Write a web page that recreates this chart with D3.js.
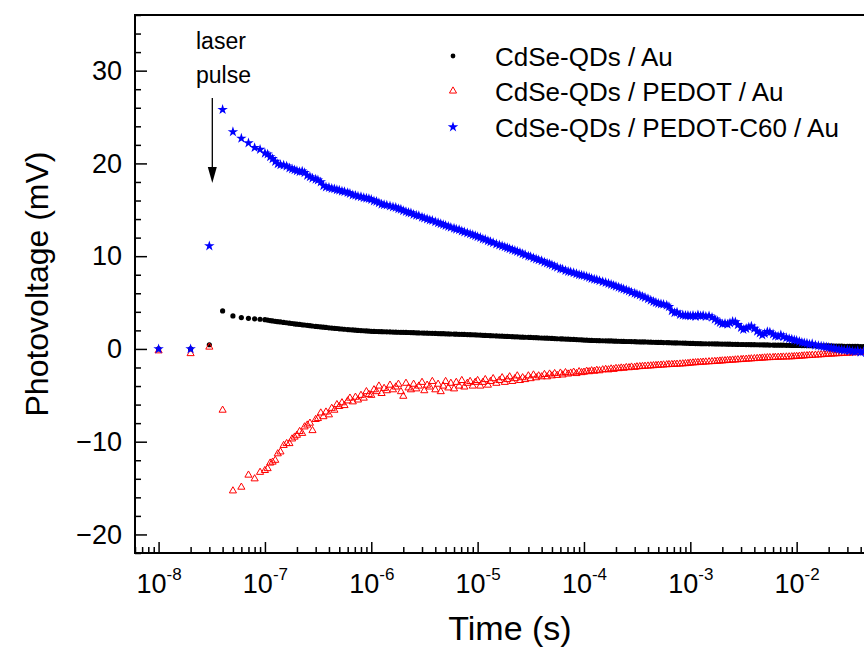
<!DOCTYPE html>
<html>
<head>
<meta charset="utf-8">
<script src="https://cdn.jsdelivr.net/npm/d3@7"></script>
<style>
  body { margin: 0; background: #fff; }
  svg { font-family: "Liberation Sans", Arial, sans-serif; }
</style>
</head>
<body>
<div id="chart"></div>
<script>
// sampling: 10 ns steps before 100 ns, then 40 mantissas per decade
const earlyTimes = [1e-8, 2e-8, 3e-8, 4e-8, 5e-8, 6e-8, 7e-8, 8e-8, 9e-8];
const mantissas = [1.00, 1.06, 1.12, 1.18, 1.25, 1.32, 1.40, 1.50, 1.60, 1.70,
                   1.80, 1.90, 2.00, 2.12, 2.24, 2.36, 2.50, 2.65, 2.80, 3.00,
                   3.15, 3.35, 3.55, 3.75, 4.00, 4.25, 4.50, 4.75, 5.00, 5.30,
                   5.60, 6.00, 6.30, 6.70, 7.10, 7.50, 8.00, 8.50, 9.00, 9.50];
const decades = [-7, -6, -5, -4, -3, -2];

const seriesNames = ["CdSe-QDs / Au", "CdSe-QDs / PEDOT / Au", "CdSe-QDs / PEDOT-C60 / Au"];

// CdSe-QDs / Au (mV)
const auValues = [
  0, 0, 0.45, 4.1, 3.56, 3.38, 3.3, 3.25, 3.2,
  3.15, 3.11, 3.06, 3.02, 2.98, 2.94, 2.91, 2.86, 2.82, 2.78, 2.74, 2.70, 2.67, 2.64, 2.60, 2.58, 2.54, 2.51, 2.47, 2.43,
  2.41, 2.37, 2.35, 2.32, 2.28, 2.25, 2.22, 2.20, 2.17, 2.15, 2.12, 2.09, 2.07, 2.05, 2.02, 2.00, 1.98, 1.96, 1.94, 1.92,
  1.90, 1.89, 1.88, 1.87, 1.86, 1.85, 1.84, 1.83, 1.82, 1.81, 1.80, 1.79, 1.79, 1.78, 1.77, 1.76, 1.75, 1.74, 1.73, 1.72,
  1.71, 1.70, 1.69, 1.68, 1.67, 1.66, 1.65, 1.64, 1.63, 1.62, 1.61, 1.60, 1.59, 1.58, 1.57, 1.56, 1.55, 1.54, 1.53, 1.52,
  1.50, 1.49, 1.47, 1.46, 1.45, 1.43, 1.42, 1.40, 1.39, 1.37, 1.36, 1.35, 1.34, 1.32, 1.31, 1.30, 1.28, 1.27, 1.26, 1.25,
  1.24, 1.22, 1.21, 1.20, 1.18, 1.17, 1.16, 1.15, 1.13, 1.12, 1.10, 1.09, 1.08, 1.06, 1.05, 1.04, 1.02, 1.01, 0.99, 0.98,
  0.95, 0.94, 0.93, 0.92, 0.91, 0.90, 0.89, 0.88, 0.87, 0.86, 0.86, 0.85, 0.84, 0.83, 0.82, 0.81, 0.80, 0.80, 0.79, 0.78,
  0.77, 0.76, 0.75, 0.75, 0.74, 0.73, 0.72, 0.71, 0.70, 0.70, 0.69, 0.68, 0.67, 0.66, 0.65, 0.65, 0.64, 0.63, 0.62, 0.61,
  0.59, 0.59, 0.58, 0.58, 0.57, 0.56, 0.56, 0.55, 0.55, 0.54, 0.54, 0.53, 0.52, 0.52, 0.51, 0.51, 0.50, 0.50, 0.49, 0.48,
  0.48, 0.47, 0.47, 0.46, 0.46, 0.45, 0.44, 0.44, 0.43, 0.43, 0.42, 0.42, 0.41, 0.41, 0.40, 0.40, 0.39, 0.39, 0.38, 0.38,
  0.37, 0.37, 0.36, 0.36, 0.36, 0.35, 0.35, 0.34, 0.34, 0.33, 0.33, 0.33, 0.32, 0.32, 0.31, 0.31, 0.30, 0.30, 0.29, 0.29,
  0.28, 0.28, 0.27, 0.27, 0.26, 0.26, 0.25, 0.25, 0.24, 0.24, 0.23, 0.23, 0.22, 0.22, 0.21, 0.21, 0.20, 0.20, 0.19, 0.19
];

// CdSe-QDs / PEDOT / Au (mV)
const pedotValues = [
  -0.2, -0.5, 0.2, -6.6, -15.3, -14.9, -13.6, -14.0, -13.3,
  -13.1, -12.9, -12.3, -12.2, -12.0, -11.3, -11.1, -10.4, -10.2, -10.2, -9.7, -9.5, -9.3, -8.9, -9.1, -8.4, -8.2, -8.0, -8.8, -7.6,
  -7.5, -6.9, -7.3, -6.8, -7.1, -6.4, -6.6, -6.0, -6.2, -5.8, -6.1, -5.6, -5.3, -5.7, -5.2, -5.5, -5.0, -5.3, -4.6, -4.9,
  -5.0, -4.4, -4.6, -4.0, -4.8, -4.25, -4.5, -3.9, -4.4, -4.1, -3.8, -4.6, -5.1, -3.7, -4.2, -4.4, -3.8, -4.3, -4.0, -3.6,
  -4.5, -3.9, -4.1, -3.5, -4.4, -3.8, -4.6, -4.0, -3.5, -4.2, -3.7, -4.3, -3.6, -4.0, -3.4, -4.1, -3.7, -3.5, -4.0, -3.6,
  -3.4, -4.0, -3.6, -3.3, -3.9, -3.5, -3.2, -3.7, -3.4, -3.1, -3.6, -3.3, -3.0, -3.5, -3.2, -2.9, -3.4, -3.1, -3.3, -2.9,
  -3.2, -2.8, -3.1, -2.9, -3.0, -2.75, -3.0, -2.7, -2.9, -2.65, -2.85, -2.6, -2.8, -2.55, -2.7, -2.6, -2.5, -2.65, -2.45, -2.55,
  -2.5, -2.4, -2.45, -2.35, -2.4, -2.3, -2.35, -2.25, -2.2, -2.25, -2.15, -2.2, -2.1, -2.12, -2.05, -2.08, -2.0, -2.02, -1.95, -1.98,
  -1.92, -1.9, -1.88, -1.86, -1.84, -1.82, -1.8, -1.78, -1.76, -1.74, -1.72, -1.7, -1.68, -1.67, -1.65, -1.64, -1.62, -1.6, -1.58, -1.56,
  -1.52, -1.5, -1.48, -1.46, -1.44, -1.42, -1.4, -1.38, -1.36, -1.34, -1.32, -1.3, -1.28, -1.26, -1.24, -1.22, -1.2, -1.18, -1.16, -1.14,
  -1.12, -1.1, -1.08, -1.06, -1.04, -1.02, -1.0, -0.98, -0.96, -0.94, -0.93, -0.92, -0.9, -0.89, -0.88, -0.87, -0.86, -0.85, -0.84, -0.82,
  -0.8, -0.78, -0.76, -0.74, -0.72, -0.7, -0.68, -0.66, -0.64, -0.62, -0.6, -0.58, -0.56, -0.55, -0.53, -0.51, -0.5, -0.48, -0.46, -0.45,
  -0.43, -0.42, -0.4, -0.39, -0.37, -0.36, -0.35, -0.34, -0.33, -0.32, -0.31, -0.3, -0.29, -0.28, -0.27, -0.26, -0.25, -0.24, -0.23, -0.22
];

// CdSe-QDs / PEDOT-C60 / Au (mV)
const c60Values = [
  0, 0, 11.1, 25.8, 23.4, 22.7, 22.2, 21.7, 21.5,
  21.1, 21.0, 20.7, 20.5, 20.2, 19.95, 19.85, 19.8, 19.7, 19.5, 19.4, 19.3, 19.2, 19.1, 19.15, 19.0, 18.7, 18.55, 18.4, 18.3,
  18.2, 18.0, 17.6, 17.45, 17.4, 17.3, 17.25, 17.15, 17.1, 17.0, 16.95, 16.85, 16.75, 16.6, 16.55, 16.45, 16.4, 16.3, 16.25, 16.2,
  16.1, 15.95, 15.9, 15.75, 15.6, 15.55, 15.5, 15.4, 15.3, 15.25, 15.1, 15.05, 14.9, 14.8, 14.7, 14.65, 14.5, 14.4, 14.35, 14.2,
  14.1, 14.0, 13.9, 13.85, 13.7, 13.6, 13.5, 13.4, 13.3, 13.2, 13.1, 13.0, 12.9, 12.85, 12.7, 12.6, 12.5, 12.4, 12.3, 12.2,
  12.1, 12.0, 11.85, 11.8, 11.65, 11.55, 11.45, 11.3, 11.2, 11.1, 11.0, 10.9, 10.8, 10.7, 10.6, 10.5, 10.4, 10.25, 10.15, 10.0,
  9.95, 9.8, 9.7, 9.6, 9.5, 9.35, 9.25, 9.15, 9.05, 8.9, 8.8, 8.65, 8.6, 8.45, 8.35, 8.3, 8.2, 8.1, 8.0, 7.95,
  7.9, 7.8, 7.7, 7.6, 7.5, 7.45, 7.35, 7.25, 7.15, 7.05, 6.95, 6.85, 6.75, 6.65, 6.55, 6.45, 6.35, 6.25, 6.1, 6.0,
  5.9, 5.8, 5.65, 5.55, 5.4, 5.25, 5.1, 5.0, 4.9, 4.85, 4.8, 4.7, 4.55, 4.1, 3.9, 3.95, 3.7, 3.65, 3.6, 3.6,
  3.55, 3.6, 3.5, 3.65, 3.55, 3.6, 3.5, 3.55, 3.4, 3.2, 3.0, 2.85, 2.7, 2.75, 2.65, 2.8, 2.95, 2.9, 2.6, 2.3,
  2.1, 2.2, 2.35, 2.45, 2.2, 1.9, 1.7, 1.5, 1.65, 1.85, 1.8, 1.6, 1.4, 1.35, 1.5, 1.3, 1.2, 1.1, 1.05, 0.95,
  0.9, 0.8, 0.7, 0.65, 0.6, 0.5, 0.55, 0.4, 0.35, 0.3, 0.25, 0.2, 0.15, 0.1, 0.05, 0.0, -0.05, -0.1, -0.15, -0.1,
  -0.2, -0.25, -0.3, -0.2, -0.35, -0.3, -0.4, -0.35, -0.4, -0.45, -0.4, -0.5, -0.45, -0.5, -0.5, -0.55, -0.5, -0.55, -0.6, -0.55
];

const xMajor = [1e-8, 1e-7, 1e-6, 1e-5, 1e-4, 1e-3, 1e-2];
const yMajor = [-20, -10, 0, 10, 20, 30];

const times = earlyTimes.concat(decades.flatMap(e => mantissas.map(m => m * Math.pow(10, e))));

const width = 864, height = 655;
const plotLeft = 135, plotRight = 903, plotTop = 15, plotBottom = 553;

const svg = d3.select("#chart").append("svg")
  .attr("width", width)
  .attr("height", height);

const x = d3.scaleLog().domain([6e-9, 0.1]).range([plotLeft, plotRight]);
const y = d3.scaleLinear().domain([-22, 36]).range([plotBottom, plotTop]);

svg.append("clipPath").attr("id", "plot")
  .append("rect")
  .attr("x", plotLeft).attr("y", plotTop)
  .attr("width", plotRight - plotLeft).attr("height", plotBottom - plotTop);

// minor ticks
const xMinor = [];
[-9, -8, -7, -6, -5, -4, -3, -2].forEach(e => {
  [2, 3, 4, 5, 6, 7, 8, 9].forEach(m => {
    const v = m * Math.pow(10, e);
    if (v > 6e-9 && v < 0.1) xMinor.push(v);
  });
});
const yMinor = d3.range(-22, 37, 2).filter(v => v % 10 !== 0);

svg.append("g")
  .attr("transform", `translate(0,${plotBottom})`)
  .call(d3.axisBottom(x).tickValues(xMinor).tickSize(-6).tickFormat(""))
  .call(g => g.select(".domain").remove())
  .call(g => g.selectAll("line").attr("stroke-width", 1.5));

const xAxis = svg.append("g")
  .attr("transform", `translate(0,${plotBottom})`)
  .call(d3.axisBottom(x).tickValues(xMajor).tickSize(-11).tickPadding(21).tickFormat(""))
  .call(g => g.select(".domain").remove())
  .call(g => g.selectAll("line").attr("stroke-width", 1.5));

xAxis.selectAll(".tick text")
  .attr("font-size", 27)
  .attr("font-family", "Liberation Sans, Arial, sans-serif")
  .attr("fill", "#000")
  .each(function (d) {
    const t = d3.select(this);
    t.append("tspan").text("10");
    t.append("tspan")
      .attr("font-size", 17)
      .attr("dy", "-0.8em")
      .text(Math.round(Math.log10(d)));
  });

svg.append("g")
  .attr("transform", `translate(${plotLeft},0)`)
  .call(d3.axisLeft(y).tickValues(yMinor).tickSize(-6).tickFormat(""))
  .call(g => g.select(".domain").remove())
  .call(g => g.selectAll("line").attr("stroke-width", 1.5));

svg.append("g")
  .attr("transform", `translate(${plotLeft},0)`)
  .call(d3.axisLeft(y).tickValues(yMajor).tickSize(-12).tickPadding(13))
  .call(g => g.select(".domain").remove())
  .call(g => g.selectAll("line").attr("stroke-width", 1.5))
  .call(g => g.selectAll("text")
    .attr("font-size", 27)
    .attr("font-family", "Liberation Sans, Arial, sans-serif")
    .attr("fill", "#000"));

// frame
svg.append("rect")
  .attr("x", plotLeft).attr("y", plotTop)
  .attr("width", plotRight - plotLeft).attr("height", plotBottom - plotTop)
  .attr("fill", "none")
  .attr("stroke", "#000")
  .attr("stroke-width", 2);

// data
const plot = svg.append("g").attr("clip-path", "url(#plot)");

plot.selectAll(".au")
  .data(times.map((t, i) => [t, auValues[i]]))
  .enter().append("circle")
  .attr("class", "au")
  .attr("cx", d => x(d[0]))
  .attr("cy", d => y(d[1]))
  .attr("r", 2.6)
  .attr("fill", "#000");

const tri = d3.symbol().type(d3.symbolTriangle).size(22);
plot.selectAll(".pedot")
  .data(times.map((t, i) => [t, pedotValues[i]]))
  .enter().append("path")
  .attr("class", "pedot")
  .attr("d", tri)
  .attr("transform", d => `translate(${x(d[0])},${y(d[1])})`)
  .attr("fill", "none")
  .attr("stroke", "#ff0000")
  .attr("stroke-width", 1);

const star = d3.symbol().type(d3.symbolStar).size(34);
plot.selectAll(".c60")
  .data(times.map((t, i) => [t, c60Values[i]]))
  .enter().append("path")
  .attr("class", "c60")
  .attr("d", star)
  .attr("transform", d => `translate(${x(d[0])},${y(d[1])})`)
  .attr("fill", "#0000ff");

// axis titles
svg.append("text")
  .attr("x", 510).attr("y", 640)
  .attr("text-anchor", "middle")
  .attr("font-size", 34)
  .text("Time (s)");

svg.append("text")
  .attr("transform", `translate(48,${(plotTop + plotBottom) / 2}) rotate(-90)`)
  .attr("text-anchor", "middle")
  .attr("font-size", 32)
  .text("Photovoltage (mV)");

// laser pulse annotation
svg.append("text").attr("x", 196).attr("y", 49).attr("font-size", 23).text("laser");
svg.append("text").attr("x", 196).attr("y", 83).attr("font-size", 23).text("pulse");
const ax = x(3.2e-8);
svg.append("line")
  .attr("x1", ax).attr("x2", ax)
  .attr("y1", 98).attr("y2", 170)
  .attr("stroke", "#000").attr("stroke-width", 1.3);
svg.append("path")
  .attr("d", `M${ax - 4.5},167 L${ax + 4.5},167 L${ax},183 Z`)
  .attr("fill", "#000");

// legend
const legend = svg.append("g");
const legY = [56, 91, 127];
legend.append("circle").attr("cx", 453).attr("cy", legY[0]).attr("r", 2.4).attr("fill", "#000");
legend.append("path").attr("d", tri).attr("transform", `translate(453,${legY[1]})`)
  .attr("fill", "none").attr("stroke", "#ff0000").attr("stroke-width", 1);
legend.append("path").attr("d", star).attr("transform", `translate(453,${legY[2]})`)
  .attr("fill", "#0000ff");
seriesNames.forEach((name, i) => {
  legend.append("text")
    .attr("x", 495)
    .attr("y", legY[i] + 9.5)
    .attr("font-size", 26)
    .text(name);
});
</script>
</body>
</html>
